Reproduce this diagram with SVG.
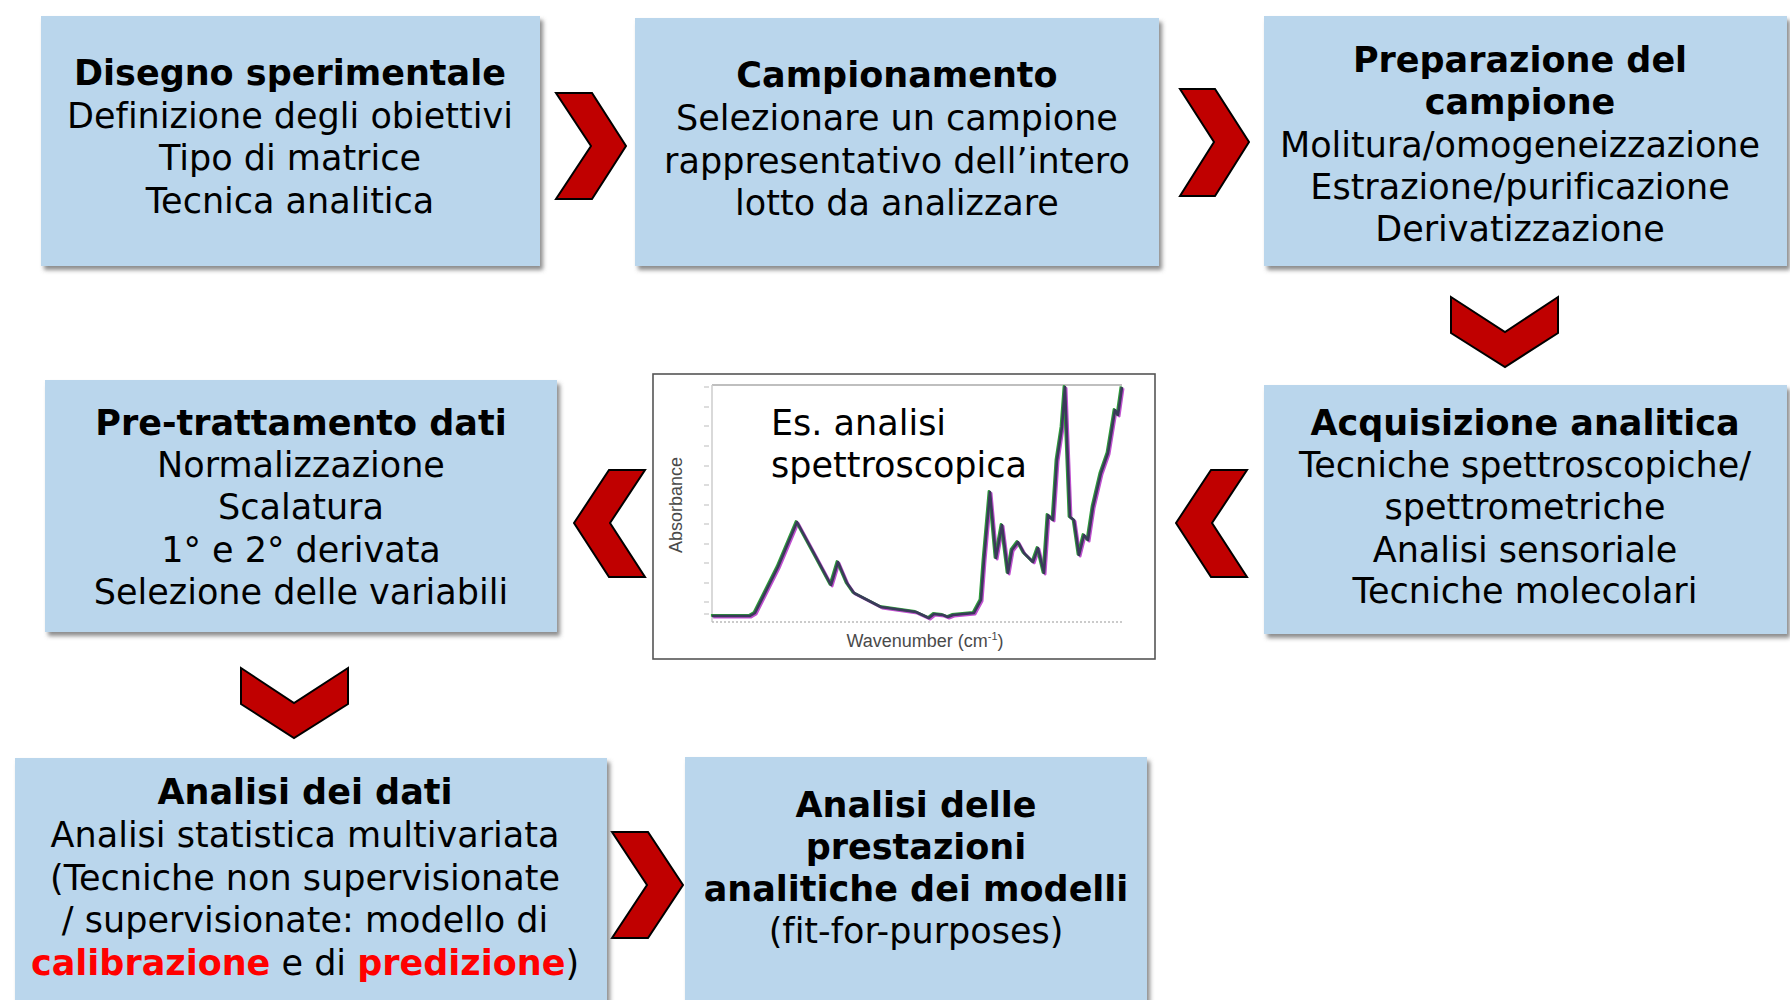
<svg xmlns="http://www.w3.org/2000/svg" width="1790" height="1000" viewBox="0 0 1790 1000">
<defs>
<filter id="sh" x="-5%" y="-5%" width="112%" height="115%">
<feDropShadow dx="3" dy="4" stdDeviation="2" flood-color="#666" flood-opacity="0.75"/>
</filter>
<polyline id="curve" points="712,616 750,616 755,613 778,567 797,522 816,557 831,585 838,562 847,583 854,593 881,607 916,612 929,618 934,614 943,615 948,617 953,615 974,613 981,600 984,560 990,492 996,558 1002,525 1008,573 1012,550 1018,542 1024,553 1033,562 1038,548 1044,573 1048,515 1053,520 1057,460 1062,427 1065,387 1070,517 1074,520 1079,555 1084,535 1088,540 1093,507 1101,473 1108,453 1115,410 1118,415 1122,387"/>
<style>
.box{fill:#BAD6EC;filter:url(#sh);}
.chev{fill:#C00000;stroke:#000;stroke-width:2;stroke-linejoin:miter;}
.t{font-family:"DejaVu Sans",Verdana,sans-serif;font-size:35px;fill:#000;text-anchor:middle;font-variant-ligatures:none;}
.b{font-weight:bold;}
.red{fill:#FF0000;font-weight:bold;}
.ax{font-family:"Liberation Sans",Arial,sans-serif;font-size:18px;fill:#4a4a4a;}
.spec{fill:none;stroke-width:2.6;stroke-linejoin:round;}
</style>
</defs>
<rect width="1790" height="1000" fill="#fff"/>

<g id="connectors">
<path class="chev" d="M556,93 L592,93 L626,146 L592,199 L556,199 L591,146 Z"/>
<path class="chev" d="M1180,89 L1215,89 L1249,142 L1215,196 L1180,196 L1214,142 Z"/>
<path class="chev" d="M1451,297 L1505,332 L1558,297 L1558,333 L1505,367 L1451,333 Z"/>
<path class="chev" d="M1176,523 L1211,470 L1247,470 L1212,523 L1247,577 L1211,577 Z"/>
<path class="chev" d="M574,523 L609,470 L645,470 L610,523 L645,577 L609,577 Z"/>
<path class="chev" d="M241,668 L294,703 L348,668 L348,704 L294,738 L241,704 Z"/>
<path class="chev" d="M612,832 L648,832 L683,885 L648,938 L612,938 L647,885 Z"/>
</g>

<g id="n1">
<rect class="box" x="41" y="16" width="499" height="250"/>
<text class="t" x="290" y="85"><tspan class="b">Disegno sperimentale</tspan><tspan x="290" y="128">Definizione degli obiettivi</tspan><tspan x="290" y="170">Tipo di matrice</tspan><tspan x="290" y="213">Tecnica analitica</tspan></text>
</g>

<g id="n2">
<rect class="box" x="635" y="18" width="524" height="248"/>
<text class="t" x="897" y="87"><tspan class="b">Campionamento</tspan><tspan x="897" y="130">Selezionare un campione</tspan><tspan x="897" y="173">rappresentativo dell’intero</tspan><tspan x="897" y="215">lotto da analizzare</tspan></text>
</g>

<g id="n3">
<rect class="box" x="1264" y="16" width="523" height="250"/>
<text class="t" x="1520" y="72"><tspan class="b">Preparazione del</tspan><tspan class="b" x="1520" y="114">campione</tspan><tspan x="1520" y="157">Molitura/omogeneizzazione</tspan><tspan x="1520" y="199">Estrazione/purificazione</tspan><tspan x="1520" y="241">Derivatizzazione</tspan></text>
</g>

<g id="n4">
<rect class="box" x="1264" y="385" width="523" height="249"/>
<text class="t" x="1525" y="435"><tspan class="b">Acquisizione analitica</tspan><tspan x="1525" y="477">Tecniche spettroscopiche/</tspan><tspan x="1525" y="519">spettrometriche</tspan><tspan x="1525" y="562">Analisi sensoriale</tspan><tspan x="1525" y="603">Tecniche molecolari</tspan></text>
</g>

<g id="spectrum">
<rect x="653" y="374" width="502" height="285" fill="#fff" stroke="#555" stroke-width="1.6"/>
<line x1="712" y1="385" x2="1122" y2="385" stroke="#aaa" stroke-width="1.5"/>
<line x1="712" y1="385" x2="712" y2="622" stroke="#ccc" stroke-width="1.5"/>
<line x1="712" y1="622" x2="1122" y2="622" stroke="#bbb" stroke-width="1.5" stroke-dasharray="2,2"/>
<path d="M704,387h5M704,407h5M704,426h5M704,446h5M704,466h5M704,485h5M704,505h5M704,524h5M704,544h5M704,563h5M704,583h5M704,602h5M704,614h5" stroke="#bbb" stroke-width="1.2"/>
<use href="#curve" class="spec" stroke="#c050d0" transform="translate(1.2,1.2)"/>
<use href="#curve" class="spec" stroke="#2e9b3a" transform="translate(-1.1,-0.6)"/>
<use href="#curve" class="spec" stroke="#3a3a5a" stroke-width="2"/>
<text class="ax" transform="translate(682,505) rotate(-90)" text-anchor="middle">Absorbance</text>
<text class="ax" x="925" y="647" text-anchor="middle">Wavenumber (cm<tspan font-size="11" dy="-7">-1</tspan><tspan dy="7">)</tspan></text>
<text class="t" x="771" y="435" style="text-anchor:start">Es. analisi<tspan x="771" y="477">spettroscopica</tspan></text>
</g>

<g id="n5">
<rect class="box" x="45" y="380" width="512" height="252"/>
<text class="t" x="301" y="435"><tspan class="b">Pre-trattamento dati</tspan><tspan x="301" y="477">Normalizzazione</tspan><tspan x="301" y="519">Scalatura</tspan><tspan x="301" y="562">1° e 2° derivata</tspan><tspan x="301" y="604">Selezione delle variabili</tspan></text>
</g>

<g id="n6">
<rect class="box" x="15" y="758" width="592" height="260"/>
<text class="t" x="305" y="804"><tspan class="b">Analisi dei dati</tspan><tspan x="305" y="847">Analisi statistica multivariata</tspan><tspan x="305" y="890">(Tecniche non supervisionate</tspan><tspan x="305" y="932">/ supervisionate: modello di</tspan><tspan x="305" y="975"><tspan class="red">calibrazione</tspan> e di <tspan class="red">predizione</tspan>)</tspan></text>
</g>

<g id="n7">
<rect class="box" x="685" y="757" width="462" height="260"/>
<text class="t" x="916" y="817"><tspan class="b">Analisi delle</tspan><tspan class="b" x="916" y="859">prestazioni</tspan><tspan class="b" x="916" y="901">analitiche dei modelli</tspan><tspan x="916" y="943">(fit-for-purposes)</tspan></text>
</g>
</svg>
